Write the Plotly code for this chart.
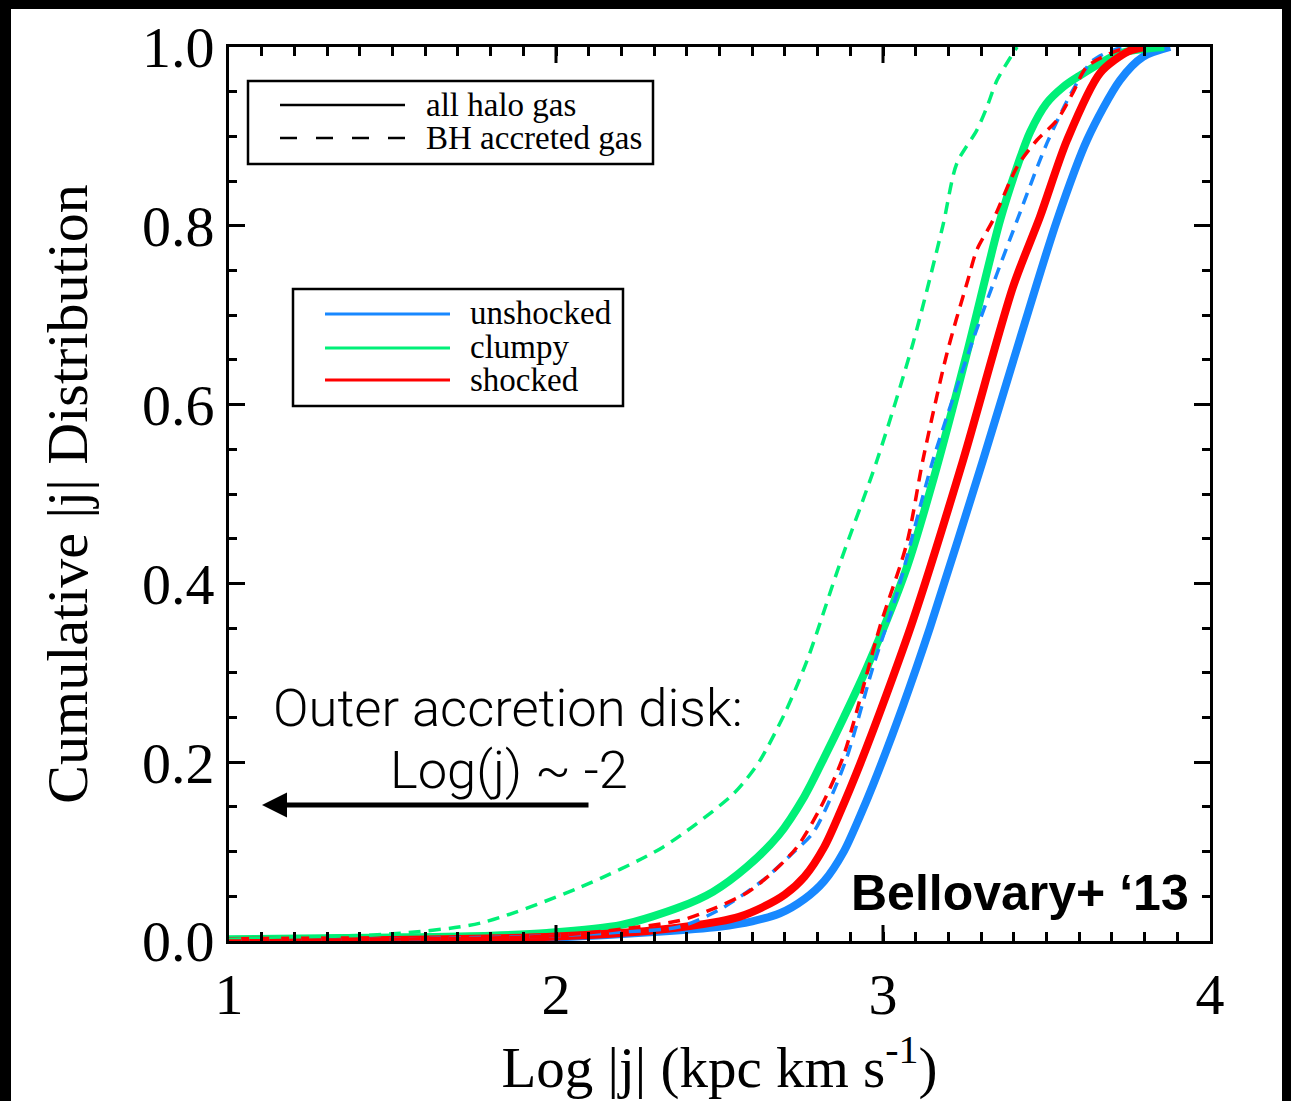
import plotly.graph_objects as go

# ---------------- data ----------------
unshocked_all_x = [1.0, 1.5, 2.0, 2.3, 2.5, 2.60, 2.685, 2.76, 2.82, 2.88, 2.93, 2.97, 3.06, 3.144, 3.306, 3.42, 3.532, 3.624, 3.725, 3.795, 3.878]
unshocked_all_y = [0.0, 0.001, 0.004, 0.010, 0.016, 0.022, 0.031, 0.047, 0.067, 0.10, 0.14, 0.175, 0.262, 0.351, 0.538, 0.675, 0.806, 0.896, 0.963, 0.989, 1.0]

shocked_all_x = [1.0, 1.5, 2.0, 2.3, 2.5, 2.56, 2.633, 2.70, 2.76, 2.82, 2.87, 2.93, 3.01, 3.092, 3.245, 3.398, 3.48, 3.563, 3.664, 3.75, 3.80]
shocked_all_y = [0.0, 0.001, 0.005, 0.012, 0.022, 0.027, 0.038, 0.052, 0.072, 0.105, 0.145, 0.198, 0.275, 0.359, 0.538, 0.732, 0.81, 0.896, 0.971, 0.995, 1.0]

clumpy_all_x = [1.0, 1.5, 1.8, 1.972, 2.2, 2.379, 2.48, 2.584, 2.68, 2.76, 2.82, 2.88, 2.951, 3.073, 3.153, 3.257, 3.358, 3.41, 3.45, 3.50, 3.55, 3.593, 3.725, 3.86]
clumpy_all_y = [0.002, 0.004, 0.006, 0.009, 0.018, 0.038, 0.055, 0.083, 0.118, 0.162, 0.205, 0.25, 0.306, 0.418, 0.515, 0.658, 0.806, 0.866, 0.905, 0.937, 0.955, 0.966, 0.993, 1.0]

unshocked_bh_x = [1.0, 1.5, 2.0, 2.2, 2.379, 2.5, 2.633, 2.72, 2.786, 2.84, 2.89, 2.969, 3.043, 3.153, 3.297, 3.41, 3.502, 3.581, 3.642, 3.725, 3.76]
unshocked_bh_y = [0.0, 0.002, 0.006, 0.010, 0.016, 0.035, 0.068, 0.097, 0.121, 0.16, 0.206, 0.306, 0.389, 0.538, 0.695, 0.806, 0.893, 0.952, 0.985, 0.999, 1.0]

shocked_bh_x = [1.0, 1.5, 2.0, 2.379, 2.48, 2.584, 2.66, 2.737, 2.81, 2.878, 2.99, 3.073, 3.122, 3.196, 3.26, 3.287, 3.336, 3.41, 3.471, 3.532, 3.581, 3.624, 3.725, 3.79]
shocked_bh_y = [0.0, 0.002, 0.006, 0.023, 0.036, 0.054, 0.076, 0.105, 0.15, 0.206, 0.351, 0.445, 0.538, 0.658, 0.74, 0.773, 0.806, 0.866, 0.896, 0.918, 0.949, 0.978, 0.997, 1.0]

clumpy_bh_x = [1.0, 1.3, 1.5, 1.768, 2.073, 2.327, 2.532, 2.58, 2.624, 2.70, 2.768, 2.869, 2.982, 3.092, 3.183, 3.226, 3.287, 3.318, 3.349, 3.41]
clumpy_bh_y = [0.002, 0.005, 0.008, 0.02, 0.06, 0.105, 0.161, 0.18, 0.202, 0.255, 0.314, 0.423, 0.538, 0.669, 0.80, 0.87, 0.907, 0.933, 0.963, 1.0]

x_ticks = [1, 2, 3, 4]
x_tick_labels = ["1", "2", "3", "4"]
y_ticks = [0.0, 0.2, 0.4, 0.6, 0.8, 1.0]
y_tick_labels = ["0.0", "0.2", "0.4", "0.6", "0.8", "1.0"]
x_minor_per_major = 10
y_minor_step = 0.05

BLUE = "rgb(24,136,255)"
GREEN = "rgb(0,240,120)"
RED = "rgb(255,0,0)"

W, H = 1291, 1101
L, R, T, B = 229, 1210, 47, 941


def X(p):
    return (p - L) / (R - L)


def Y(p):
    return (B - p) / (B - T)


# x tick positions every 0.1 with labels only on the integer ticks
x_all_ticks, x_all_text = [], []
for i in range(len(x_ticks) - 1):
    for k in range(x_minor_per_major):
        x_all_ticks.append(round(x_ticks[i] + k * (x_ticks[i + 1] - x_ticks[i]) / x_minor_per_major, 4))
        x_all_text.append(x_tick_labels[i] if k == 0 else "")
x_all_ticks.append(x_ticks[-1])
x_all_text.append(x_tick_labels[-1])

SERIF = "Liberation Serif, Times New Roman, serif"
SANS = "Roboto, Liberation Sans, Arial, sans-serif"

fig = go.Figure()

solid = [(unshocked_all_x, unshocked_all_y, BLUE, "unshocked, all halo gas"),
         (clumpy_all_x, clumpy_all_y, GREEN, "clumpy, all halo gas"),
         (shocked_all_x, shocked_all_y, RED, "shocked, all halo gas")]
dashed = [(unshocked_bh_x, unshocked_bh_y, BLUE, "unshocked, BH accreted gas"),
          (clumpy_bh_x, clumpy_bh_y, GREEN, "clumpy, BH accreted gas"),
          (shocked_bh_x, shocked_bh_y, RED, "shocked, BH accreted gas")]

for xs, ys, c, n in solid:
    fig.add_trace(go.Scatter(x=xs, y=ys, mode="lines", name=n, showlegend=False,
                             line=dict(color=c, width=8, shape="spline", smoothing=0.8)))
for xs, ys, c, n in dashed:
    fig.add_trace(go.Scatter(x=xs, y=ys, mode="lines", name=n, showlegend=False,
                             line=dict(color=c, width=3.5, dash="12px,8px", shape="spline", smoothing=0.8)))

shapes = []
# long ticks at the integer x values (bottom and top), placed on the x scale
for xv in x_ticks[1:-1]:
    shapes.append(dict(type="line", xref="x", yref="paper", x0=xv, x1=xv, y0=0, y1=16 / (B - T),
                       line=dict(color="black", width=3), layer="above"))
    shapes.append(dict(type="line", xref="x", yref="paper", x0=xv, x1=xv, y0=1 - 16 / (B - T), y1=1,
                       line=dict(color="black", width=3), layer="above"))
# legend box 1
shapes.append(dict(type="rect", xref="paper", yref="paper", x0=X(248), x1=X(653), y0=Y(164), y1=Y(81),
                   line=dict(color="black", width=2.5), fillcolor="white"))
shapes.append(dict(type="line", xref="paper", yref="paper", x0=X(280), x1=X(405), y0=Y(105), y1=Y(105),
                   line=dict(color="black", width=2.5)))
shapes.append(dict(type="line", xref="paper", yref="paper", x0=X(280), x1=X(405), y0=Y(138), y1=Y(138),
                   line=dict(color="black", width=2.5, dash="17px,19px")))
# legend box 2
shapes.append(dict(type="rect", xref="paper", yref="paper", x0=X(293), x1=X(623), y0=Y(406), y1=Y(289),
                   line=dict(color="black", width=2.5), fillcolor="white"))
for yy, c in [(314, BLUE), (348, GREEN), (380, RED)]:
    shapes.append(dict(type="line", xref="paper", yref="paper", x0=X(325), x1=X(450), y0=Y(yy), y1=Y(yy),
                       line=dict(color=c, width=3)))
# black frame of the original screenshot
for x0, x1, y0, y1 in [(0, W, 0, 9), (0, 11, 0, H), (1282, W, 0, H)]:
    shapes.append(dict(type="rect", xref="paper", yref="paper", x0=X(x0), x1=X(x1), y0=Y(y1), y1=Y(y0),
                       line=dict(width=0), fillcolor="black", layer="above"))

annotations = []
for txt, yy in [("all halo gas", 105), ("BH accreted gas", 138)]:
    annotations.append(dict(text=txt, xref="paper", yref="paper", x=X(424), y=Y(yy), xanchor="left",
                            yanchor="middle", showarrow=False, font=dict(family=SERIF, size=33, color="black")))
for txt, yy in [("unshocked", 313), ("clumpy", 347), ("shocked", 380)]:
    annotations.append(dict(text=txt, xref="paper", yref="paper", x=X(468), y=Y(yy), xanchor="left",
                            yanchor="middle", showarrow=False, font=dict(family=SERIF, size=33, color="black")))
annotations.append(dict(text="Outer accretion disk:", xref="paper", yref="paper", x=X(508), y=Y(708),
                        xanchor="center", yanchor="middle", showarrow=False,
                        font=dict(family=SANS, size=52.5, color="black", weight=300)))
annotations.append(dict(text="Log(j) ~ -2", xref="paper", yref="paper", x=X(509), y=Y(770),
                        xanchor="center", yanchor="middle", showarrow=False,
                        font=dict(family=SANS, size=52.5, color="black", weight=300)))
annotations.append(dict(text="", xref="paper", yref="paper", x=X(262), y=Y(805),
                        ax=590 - 262, ay=0, axref="pixel", ayref="pixel", showarrow=True,
                        arrowhead=2, arrowsize=1.0, arrowwidth=5, arrowcolor="black"))
annotations.append(dict(text="<b>Bellovary+ \u201813</b>", xref="paper", yref="paper", x=X(1191), y=Y(893),
                        xanchor="right", yanchor="middle", showarrow=False,
                        font=dict(family="Liberation Sans, Arial, sans-serif", size=50, color="black")))

axis_common = dict(showline=True, linewidth=3, linecolor="black", mirror="allticks", ticks="inside",
                   tickcolor="black", showgrid=False, zeroline=False,
                   tickfont=dict(family=SERIF, size=58, color="black"))

fig.update_layout(
    width=W, height=H,
    margin=dict(l=L, r=W - R, t=T, b=H - B),
    paper_bgcolor="white", plot_bgcolor="white",
    showlegend=False,
    xaxis=dict(range=[x_ticks[0], x_ticks[-1]], tickmode="array", tickvals=x_all_ticks, ticktext=x_all_text,
               ticklen=9, tickwidth=3,
               title=dict(text="Log |j| (kpc km s<sup>-1</sup>)", standoff=0,
                          font=dict(family=SERIF, size=57, color="black")),
               **axis_common),
    yaxis=dict(range=[y_ticks[0], y_ticks[-1]], tickmode="linear", tick0=y_ticks[0],
               dtick=round(y_ticks[1] - y_ticks[0], 3), tickformat=".1f", ticklabelstandoff=0,
               ticklen=16, tickwidth=3,
               minor=dict(dtick=y_minor_step, ticklen=8, tickwidth=2.5,
                          tickcolor="black", ticks="inside", showgrid=False),
               title=dict(text="Cumulative |j| Distribution", standoff=36,
                          font=dict(family=SERIF, size=58, color="black")),
               **axis_common),
    shapes=shapes,
    annotations=annotations,
)

fig.write_html("out.html")
